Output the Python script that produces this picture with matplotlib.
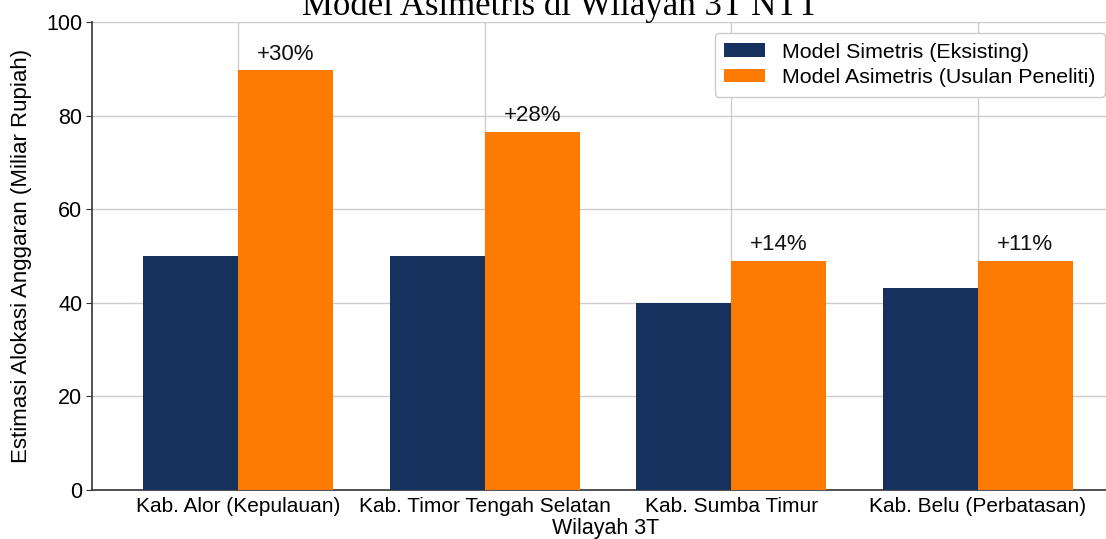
import matplotlib
matplotlib.use("Agg")
import matplotlib.pyplot as plt
import numpy as np

plt.rcParams['font.family'] = ['Liberation Sans', 'DejaVu Sans']

categories = ["Kab. Alor (Kepulauan)", "Kab. Timor Tengah Selatan", "Kab. Sumba Timur", "Kab. Belu (Perbatasan)"]
simetris = [50.0, 50.0, 40.0, 43.2]
asimetris = [89.7, 76.6, 49.0, 49.0]
increase_labels = ["+30%", "+28%", "+14%", "+11%"]
series_names = ["Model Simetris (Eksisting)", "Model Asimetris (Usulan Peneliti)"]
title = "Model Asimetris di Wilayah 3T NTT"

navy = '#16315e'
orange = '#fc7a00'

W, H = 1106, 539
fig = plt.figure(figsize=(W/100, H/100), dpi=100)
ax = fig.add_axes([92/W, 49/H, (1120-92)/W, (490-22)/H])

x = np.arange(len(categories))
w = 0.385
ax.bar(x - w/2, simetris, w, color=navy, label=series_names[0], zorder=3)
bars2 = ax.bar(x + w/2, asimetris, w, color=orange, label=series_names[1], zorder=3)

for b, lab in zip(bars2, increase_labels):
    ax.text(b.get_x() + b.get_width()/2, b.get_height() + 1.2, lab,
            ha='center', va='bottom', fontsize=16, color='#111111', zorder=4)

ax.set_xlim(-0.592, 3.576)
ax.set_ylim(0, 100)
ax.set_yticks([0, 20, 40, 60, 80, 100])
ax.set_xticks(x)
ax.set_xticklabels(categories, fontsize=15)
ax.tick_params(axis='y', labelsize=15.5, length=4, color='#333333', pad=3)
ax.tick_params(axis='x', length=0, pad=5)
ax.grid(True, color='#cccccc', linewidth=1, zorder=0)
ax.set_axisbelow(True)
for s in ['top', 'right']:
    ax.spines[s].set_visible(False)
for s in ['left', 'bottom']:
    ax.spines[s].set_color('#333333')
    ax.spines[s].set_linewidth(1.2)

ax.set_xlabel("Wilayah 3T", fontsize=15.5, labelpad=1.5)
ax.set_ylabel("Estimasi Alokasi Anggaran (Miliar Rupiah)", fontsize=16, labelpad=10)

ax.legend(loc='upper right', bbox_to_anchor=(1105/W, 1 - 33/H),
          bbox_transform=fig.transFigure, borderaxespad=0, fontsize=15.4,
          frameon=True, fancybox=True, edgecolor='#cccccc', framealpha=1,
          handlelength=1.9, handleheight=0.6, handletextpad=0.8,
          labelspacing=0.3, borderpad=0.45)

fig.text(560/W, 1 - 15/H, title, ha='center', va='baseline',
         fontsize=25, family=['Liberation Serif', 'DejaVu Serif'])

fig.savefig('out.png', dpi=100)
